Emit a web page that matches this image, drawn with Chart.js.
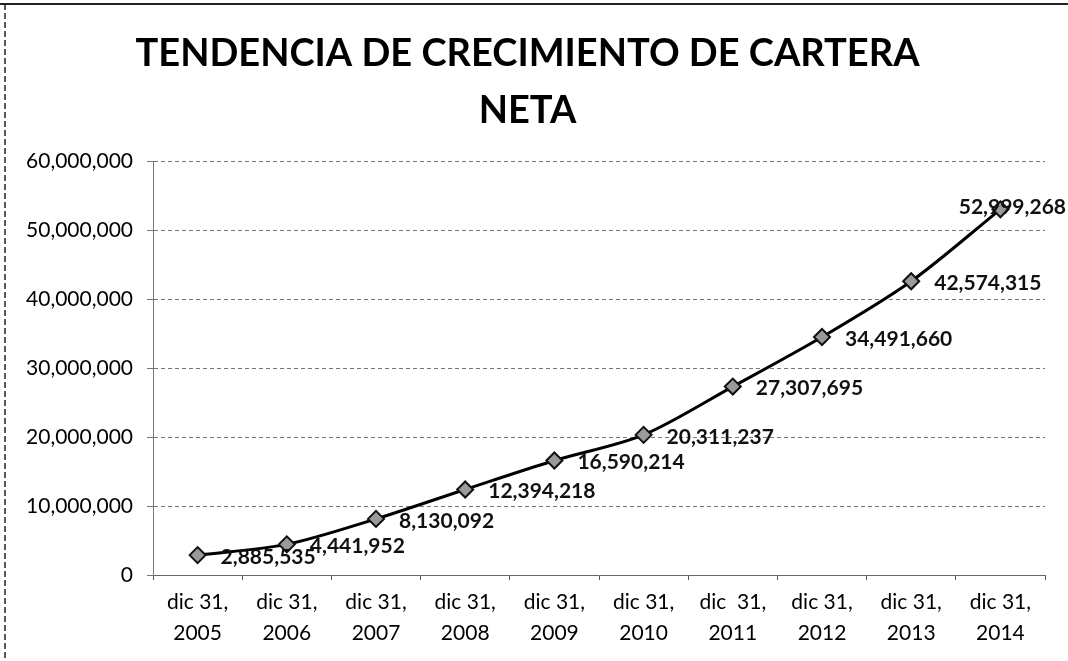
<!DOCTYPE html>
<html>
<head>
<meta charset="utf-8">
<script src="https://cdn.jsdelivr.net/npm/chart.js@4/dist/chart.umd.min.js"></script>
<style>
    body { margin: 0; background: #fff; }
    canvas { display: block; }
</style>
</head>
<body>
<canvas id="carteraChart" width="1068" height="661"></canvas>
<script>
'use strict';

// Datos
let periodos = [
    ['dic 31,', '2005'], ['dic 31,', '2006'], ['dic 31,', '2007'], ['dic 31,', '2008'], ['dic 31,', '2009'],
    ['dic 31,', '2010'], ['dic  31,', '2011'], ['dic 31,', '2012'], ['dic 31,', '2013'], ['dic 31,', '2014']
];
let carteraNeta = [2885535, 4441952, 8130092, 12394218, 16590214, 20311237, 27307695, 34491660, 42574315, 52999268];
let tituloLineas = ['TENDENCIA DE CRECIMIENTO DE CARTERA', 'NETA'];
let ejeMin = 0, ejeMax = 60000000, ejePaso = 10000000;

let fuente = 'Lato, "Open Sans", sans-serif';

// marco del documento escaneado
let marcoPlugin = {
    id: 'marco',
    beforeDraw: function (chart) {
        let ctx = chart.ctx;
        ctx.save();
        ctx.fillStyle = '#fff';
        ctx.fillRect(0, 0, chart.width, chart.height);
        ctx.strokeStyle = '#222';
        ctx.lineWidth = 2;
        ctx.beginPath();
        ctx.moveTo(0, 4);
        ctx.lineTo(chart.width, 4);
        ctx.stroke();
        ctx.lineWidth = 1.5;
        ctx.setLineDash([6, 3]);
        ctx.beginPath();
        ctx.moveTo(5, 4);
        ctx.lineTo(5, chart.height);
        ctx.stroke();
        ctx.restore();
    }
};

// etiquetas de valores a la derecha de cada punto
let etiquetasPlugin = {
    id: 'etiquetas',
    afterDatasetsDraw: function (chart) {
        let ctx = chart.ctx;
        let meta = chart.getDatasetMeta(0);
        ctx.save();
        ctx.font = 'bold 21px ' + fuente;
        ctx.fillStyle = '#111';
        ctx.textAlign = 'left';
        ctx.textBaseline = 'middle';
        meta.data.forEach(function (p, i) {
            let texto = carteraNeta[i].toLocaleString('en-US');
            let w = ctx.measureText(texto).width;
            let x = p.x + 23;
            let y = p.y + 2;
            if (x + w > chart.width - 2) {
                x = chart.width - 2 - w;
                y = p.y - 2;
            }
            ctx.fillText(texto, x, y);
        });
        ctx.restore();
    }
};

let ctx = document.getElementById('carteraChart').getContext('2d');

let carteraChart = new Chart(ctx, {
    type: 'line',
    data: {
        labels: periodos,
        datasets: [{
            label: 'Cartera neta',
            data: carteraNeta,
            borderColor: '#000',
            borderWidth: 3,
            tension: 0.3,
            pointStyle: 'rectRot',
            pointRadius: 8,
            pointBackgroundColor: '#9a9a9a',
            pointBorderColor: '#111',
            pointBorderWidth: 2,
            fill: false
        }]
    },
    options: {
        responsive: false,
        animation: false,
        devicePixelRatio: 1,
        layout: {
            padding: { left: 10, right: 23, top: 0, bottom: 10 }
        },
        plugins: {
            legend: { display: false },
            tooltip: { enabled: false },
            title: {
                display: true,
                text: tituloLineas,
                color: '#000',
                font: { family: fuente, size: 38, weight: 'bold', lineHeight: 1.5 },
                padding: { top: 25, bottom: 22 }
            }
        },
        scales: {
            x: {
                offset: true,
                border: { display: true, color: '#666', dash: [3, 2], width: 1 },
                grid: { drawOnChartArea: false, drawTicks: true, tickLength: 5, color: '#555', offset: true },
                ticks: {
                    color: '#000',
                    padding: 6,
                    maxRotation: 0,
                    font: { family: fuente, size: 21, lineHeight: 1.5 }
                },
                afterFit: function (scale) { scale.height = 76; }
            },
            y: {
                min: ejeMin,
                max: ejeMax,
                border: { display: true, color: '#777', dash: [4, 3], width: 1 },
                grid: { color: '#777', lineWidth: 1, drawTicks: true, tickLength: 6 },
                ticks: {
                    stepSize: ejePaso,
                    color: '#000',
                    padding: 14,
                    font: { family: fuente, size: 21 },
                    callback: function (v) { return v.toLocaleString('en-US'); }
                },
                afterFit: function (scale) { scale.width = 143; }
            }
        }
    },
    plugins: [marcoPlugin, etiquetasPlugin]
});
</script>
</body>
</html>
